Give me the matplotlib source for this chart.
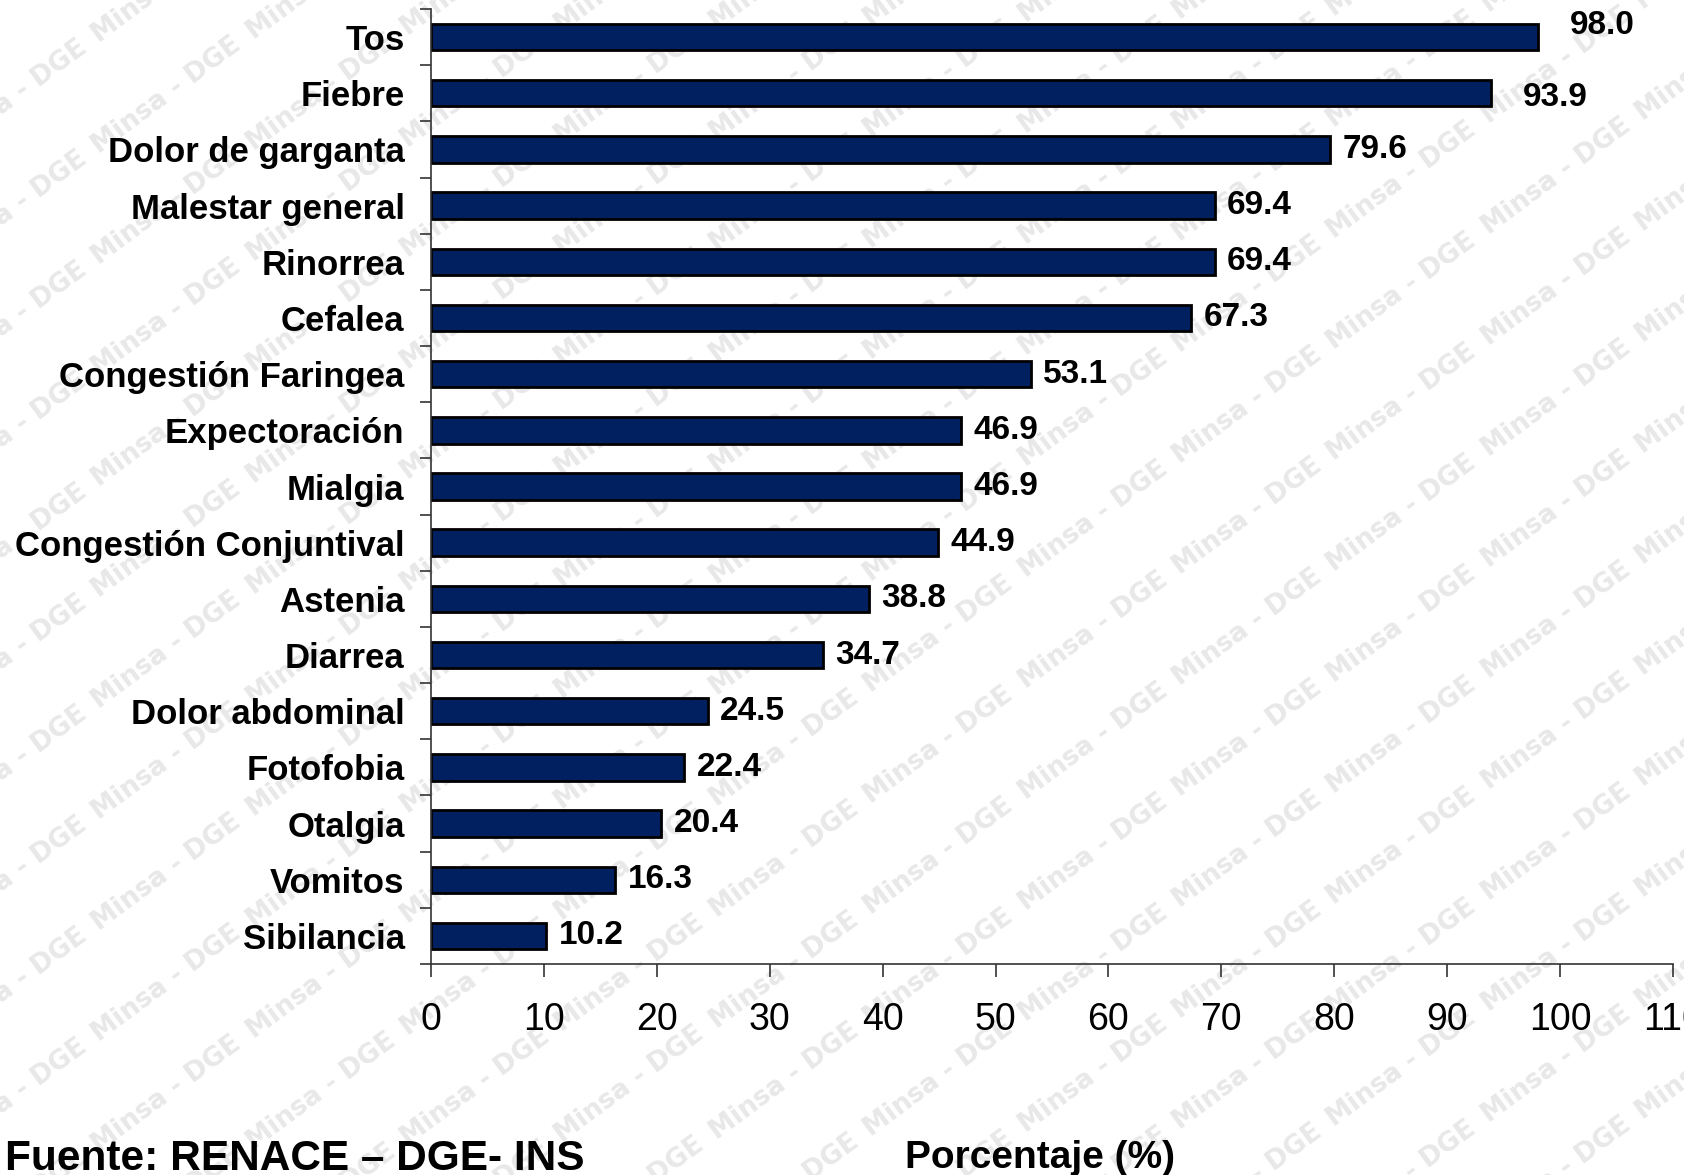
import numpy as np
import matplotlib.pyplot as plt
from matplotlib.ticker import FixedLocator

plt.rcParams['font.family'] = ['Liberation Sans', 'DejaVu Sans']

sintomas = ["Tos", "Fiebre", "Dolor de garganta", "Malestar general", "Rinorrea",
            "Cefalea", "Congestión Faringea", "Expectoración", "Mialgia",
            "Congestión Conjuntival", "Astenia", "Diarrea", "Dolor abdominal",
            "Fotofobia", "Otalgia", "Vomitos", "Sibilancia"]
porcentaje = [98.0, 93.9, 79.6, 69.4, 69.4, 67.3, 53.1, 46.9, 46.9,
              44.9, 38.8, 34.7, 24.5, 22.4, 20.4, 16.3, 10.2]
xticks = list(range(0, 111, 10))

W, H = 1684, 1175
fig = plt.figure(figsize=(W / 100, H / 100), dpi=100)

# marca de agua "Minsa - DGE" en diagonal
ang = 36.5
u = np.array([154.4, -114.3])   # paso a lo largo de la linea (px imagen)
w = np.array([0.0, 111.0])      # paso vertical entre lineas
orig = np.array([1180.0, 575.0])
for i in range(-12, 14):
    for j in range(-12, 26):
        p = orig + i * u + j * w
        if -250 < p[0] < W + 50 and -50 < p[1] < H + 250:
            fig.text(p[0] / W, 1 - p[1] / H, "Minsa - DGE", rotation=ang,
                     rotation_mode='anchor', ha='left', va='baseline',
                     fontsize=19, fontweight='bold', family='DejaVu Sans',
                     color='#e8e8e8', zorder=-5)

ax = fig.add_axes([431 / W, 1 - 964 / H, (1673 - 431) / W, (964 - 9) / H])
ax.set_facecolor('none')

y = np.arange(len(sintomas))
ax.barh(y, porcentaje, height=0.47, color='#002060', edgecolor='black', linewidth=2)

ax.set_xlim(0, 110)
ax.set_ylim(len(sintomas) - 0.5, -0.5)
ax.set_xticks(xticks)
ax.set_xticklabels([str(t) for t in xticks], fontsize=27)
ax.set_yticks(y)
ax.set_yticklabels(sintomas, fontsize=25, fontweight='bold')
ax.yaxis.set_minor_locator(FixedLocator(np.arange(-0.5, len(sintomas), 1)))
ax.tick_params(axis='y', which='major', length=0, pad=19)
ax.tick_params(axis='y', which='minor', length=8, width=1.2, color='#333333', direction='out')
ax.tick_params(axis='x', length=9, width=1.2, color='#333333', direction='out', pad=18)
for s in ['top', 'right']:
    ax.spines[s].set_visible(False)
for s in ['left', 'bottom']:
    ax.spines[s].set_color('#333333')
    ax.spines[s].set_linewidth(1.2)

# desplazamientos de etiquetas (puntos)
desp = {0: (23, 8), 1: (23, -3)}
for k, v in enumerate(porcentaje):
    dx, dy = desp.get(k, (9, 0))
    ax.annotate(f"{v:.1f}", (v, k), xytext=(dx, dy), textcoords='offset points',
                ha='left', va='center', fontsize=24, fontweight='bold')

fig.text(1040 / W, 1 - 1168 / H, "Porcentaje (%)", ha='center', va='baseline',
         fontsize=28, fontweight='bold')
fig.text(5 / W, 1 - 1170 / H, "Fuente: RENACE – DGE- INS", ha='left', va='baseline',
         fontsize=30.5, fontweight='bold')

fig.savefig("out.png", dpi=100)
